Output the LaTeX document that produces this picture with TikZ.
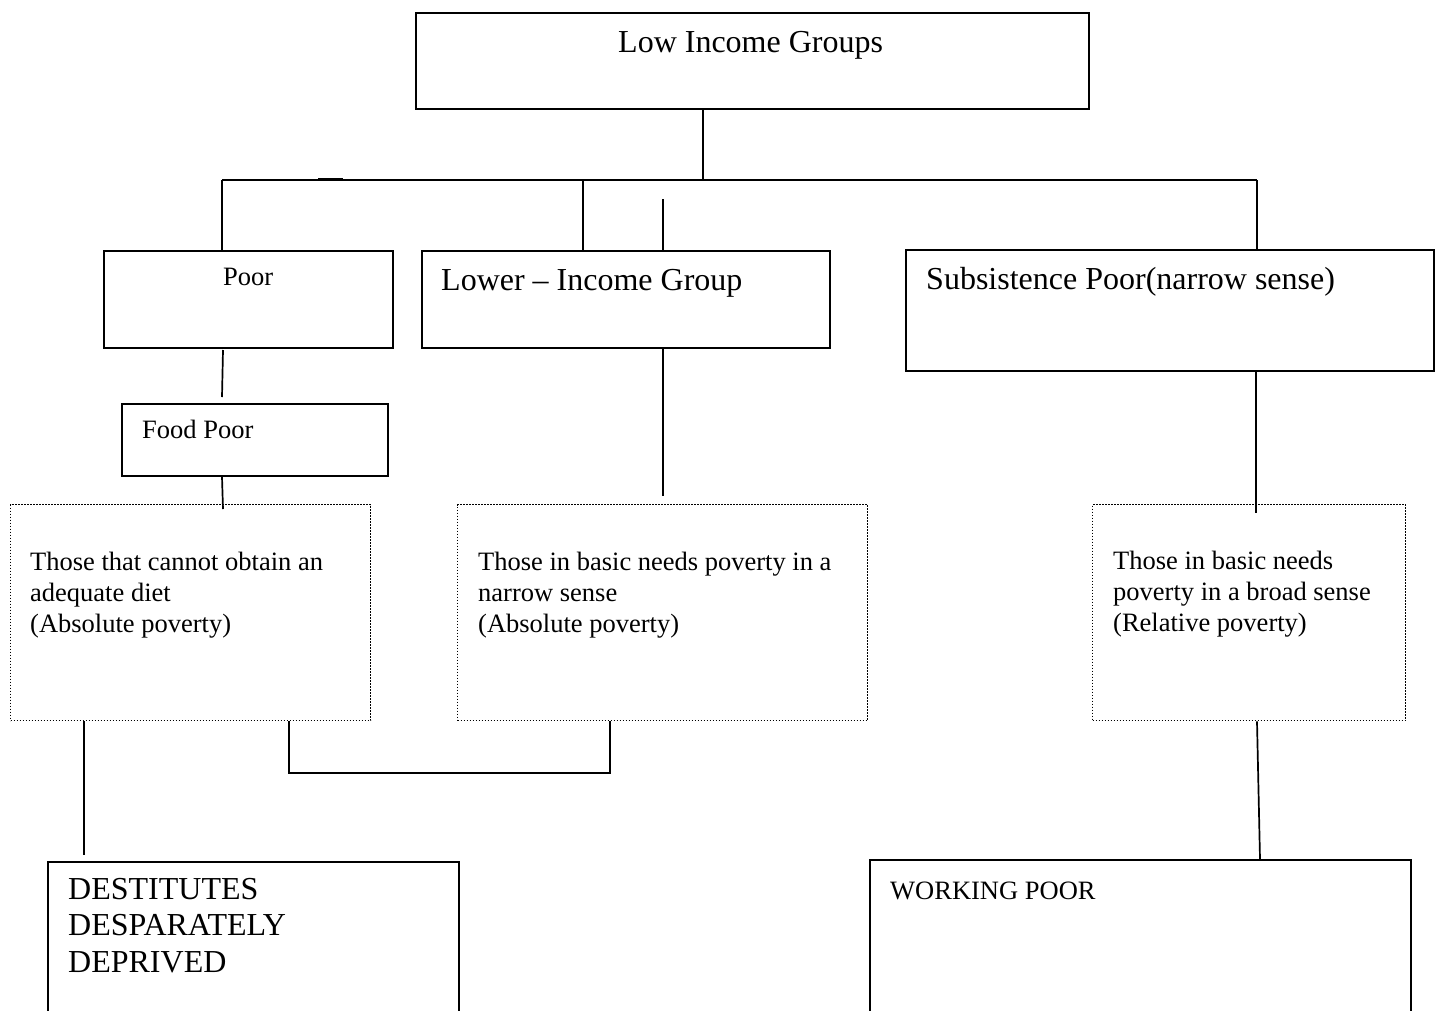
\documentclass[tikz,border=0pt]{standalone}
\usepackage{fontspec}
\setmainfont{Liberation Serif}
\begin{document}
\begin{tikzpicture}[x=1pt,y=-1pt,
  solidbox/.style={draw=black,line width=1.8pt,rectangle,inner sep=0pt,anchor=north west},
  dotbox/.style={draw=black,line width=1.3pt,dash pattern=on 1.3pt off 1.7pt,rectangle,inner sep=0pt,anchor=north west},
  conn/.style={draw=black,line width=1.7pt},
  bigtext/.style={inner sep=0pt,anchor=base west,align=left,font=\fontsize{32}{36.5}\selectfont},
  smalltext/.style={inner sep=0pt,anchor=base west,align=left,font=\fontsize{26.5}{31}\selectfont}]
\useasboundingbox (0,0) rectangle (1438,1010);
\clip (0,0) rectangle (1438,1010);
% boxes
\node[solidbox,minimum width=673pt,minimum height=96pt] (top) at (415,12) {};
\node[solidbox,minimum width=289pt,minimum height=97pt] (poor) at (103,250) {};
\node[solidbox,minimum width=408pt,minimum height=97pt] (lower) at (421,250) {};
\node[solidbox,minimum width=528pt,minimum height=121pt] (subs) at (905,249) {};
\node[solidbox,minimum width=266pt,minimum height=72pt] (food) at (121,403) {};
\node[dotbox,minimum width=360pt,minimum height=216pt] (dleft) at (10,504) {};
\node[dotbox,minimum width=410pt,minimum height=216pt] (dmid) at (457,504) {};
\node[dotbox,minimum width=313pt,minimum height=216pt] (dright) at (1092,504) {};
\node[solidbox,minimum width=411pt,minimum height=200pt] (dest) at (47,861) {};
\node[solidbox,minimum width=541pt,minimum height=200pt] (work) at (869,859) {};
% texts (multi-line nodes: base = last line)
\node[bigtext] (ttop) at (618,52) {Low Income Groups};
\node[smalltext] (tpoor) at (223,285) {Poor};
\node[bigtext] (tlower) at (441,290) {Lower -- Income Group};
\node[bigtext] (tsubs) at (926,289) {Subsistence Poor(narrow sense)};
\node[smalltext] (tfood) at (142,438) {Food Poor};
\node[smalltext] (tdleft) at (30,632) {Those that cannot obtain an\\adequate diet\\(Absolute poverty)};
\node[smalltext] (tdmid) at (478,632) {Those in basic needs poverty in a\\narrow sense\\(Absolute poverty)};
\node[smalltext] (tdright) at (1113,631) {Those in basic needs\\poverty in a broad sense\\(Relative poverty)};
\node[bigtext] (tdest) at (68,972) {DESTITUTES\\DESPARATELY\\DEPRIVED};
\node[smalltext] (twork) at (890,899) {WORKING POOR};
% junction coordinates
\coordinate (jt) at (703,180);
\coordinate (jl) at (222,180);
\coordinate (jr) at (1257,180);
\coordinate (jm) at (583,180);
\coordinate (s663) at (663,199);
\coordinate (pf1) at (223,350);
\coordinate (pf2) at (222,397);
\coordinate (fd) at (223,509);
\coordinate (ld) at (663,496);
\coordinate (sd) at (1256,513);
\coordinate (dl) at (84,855);
\coordinate (b1) at (289,773);
\coordinate (b2) at (610,773);
\coordinate (rw1) at (1257,720);
\coordinate (rw2) at (1260,0);
% connectors
\draw[conn] (top.south -| jt) -- (jt);
\draw[conn] (jl) -- (jr);
\draw[line width=2.6pt] (318,178.8) -- (343,178.8);
\draw[conn] (jl) -- (poor.north -| jl);
\draw[conn] (jm) -- (lower.north -| jm);
\draw[conn] (s663) -- (lower.north -| s663);
\draw[conn] (jr) -- (subs.north -| jr);
\draw[conn] (pf1) -- (pf2);
\draw[conn] (food.south -| pf2) -- (fd);
\draw[conn] (lower.south -| ld) -- (ld);
\draw[conn] (subs.south -| sd) -- (sd);
\draw[conn] (dleft.south -| dl) -- (dl);
\draw[conn] (dleft.south -| b1) -- (b1) -- (b2) -- (dmid.south -| b2);
\draw[conn] (dright.south -| rw1) -- (work.north -| rw2);
\end{tikzpicture}
\end{document}
